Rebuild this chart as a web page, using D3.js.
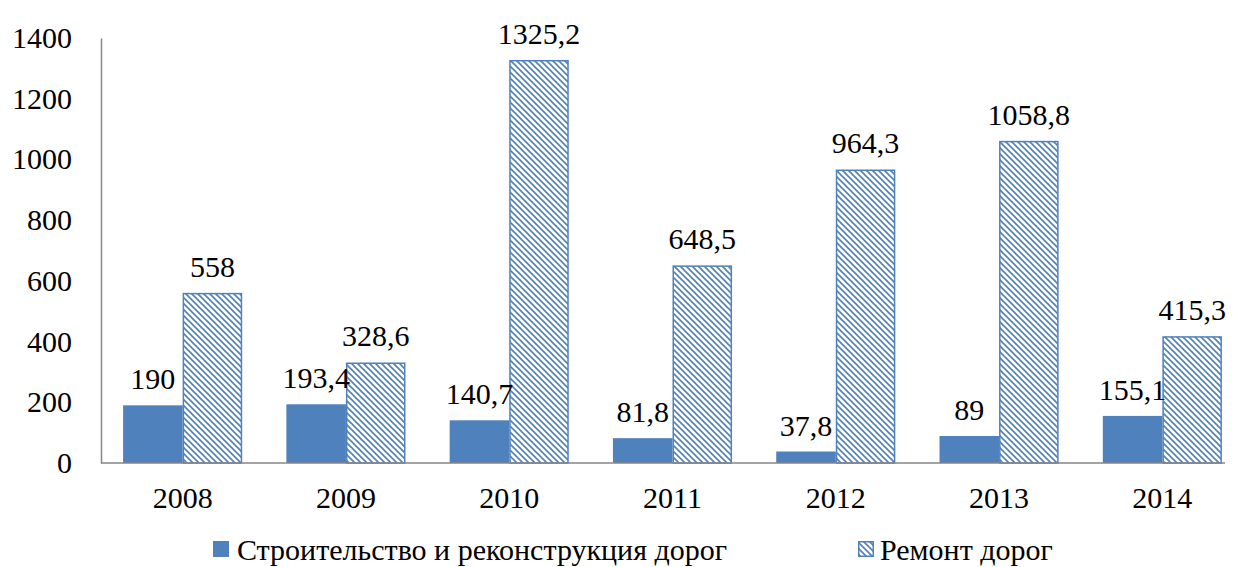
<!DOCTYPE html>
<html>
<head>
<meta charset="utf-8">
<script src="https://cdn.jsdelivr.net/npm/d3@7"></script>
</head>
<body style="margin:0">
<svg id="chart" width="1233" height="567" style="display:block;font-family:'Liberation Serif'"></svg>
<script>
// Road spending by year
const years = ["2008", "2009", "2010", "2011", "2012", "2013", "2014"];
const construction = [190, 193.4, 140.7, 81.8, 37.8, 89, 155.1];
const repair = [558, 328.6, 1325.2, 648.5, 964.3, 1058.8, 415.3];
const seriesNames = ["Строительство и реконструкция дорог", "Ремонт дорог"];
const yTicks = [0, 200, 400, 600, 800, 1000, 1200, 1400];

const plotLeft = 101, plotRight = 1244, axisEnd = 1225;
const plotTop = 38, plotBottom = 463;
const blue = "#4f81bd";
const axisGray = "#868686";
const fontSize = 30;
const serif = '"Liberation Serif"';

const svg = d3.select("#chart");

// Every label: serif face, same size, black
function addText(parent, x, y, str, anchor) {
  return parent.append("text")
    .style("font-family", serif)
    .attr("font-size", fontSize)
    .attr("x", x).attr("y", y)
    .attr("text-anchor", anchor || "start")
    .attr("fill", "#000")
    .text(str);
}

// Diagonal hatch for the repair series
const defs = svg.append("defs");
const pat = defs.append("pattern")
  .attr("id", "hatch")
  .attr("patternUnits", "userSpaceOnUse")
  .attr("width", 6).attr("height", 6);
pat.append("rect").attr("width", 6).attr("height", 6).attr("fill", "#fff");
pat.append("path")
  .attr("d", "M0,0L6,6M-1,5L1,7M5,-1L7,1")
  .attr("stroke", blue).attr("stroke-width", 1.6).attr("fill", "none");

const x0 = d3.scaleBand()
  .domain(years)
  .range([plotLeft, plotRight])
  .paddingInner(0).paddingOuter(0);

const x1 = d3.scaleBand()
  .domain(["c", "r"])
  .range([0, x0.bandwidth()])
  .paddingInner(0).paddingOuter(0.371);

const y = d3.scaleLinear()
  .domain([0, 1400])
  .range([plotBottom, plotTop]);

const fmt = v => String(v).replace(".", ",");

// Y axis line from the axis generator; labels drawn as plain text at the tick positions
const gy = svg.append("g").attr("transform", `translate(${plotLeft},0)`)
  .call(d3.axisLeft(y).tickValues(yTicks).tickSize(0).tickFormat(""));
gy.select(".domain").attr("stroke", axisGray).attr("stroke-width", 1.5);
gy.selectAll(".tick").remove();
const yLabels = svg.append("g");
yTicks.forEach(t => addText(yLabels, plotLeft - 29, y(t) + 10, String(t), "end"));

// Bars
const data = years.map((yr, i) => ({ yr, c: construction[i], r: repair[i] }));
const bars = svg.append("g");
data.forEach(d => {
  const gx = x0(d.yr);
  bars.append("rect")
    .attr("x", gx + x1("c"))
    .attr("width", x1.bandwidth())
    .attr("y", y(d.c))
    .attr("height", y(0) - y(d.c))
    .attr("fill", blue);
  bars.append("rect")
    .attr("x", gx + x1("r") + 0.75)
    .attr("width", x1.bandwidth() - 1.5)
    .attr("y", y(d.r))
    .attr("height", y(0) - y(d.r))
    .attr("fill", "url(#hatch)")
    .attr("stroke", blue)
    .attr("stroke-width", 1.5);
  // value labels above each bar
  addText(bars, gx + x1("c") + x1.bandwidth() / 2, y(d.c) - 16, fmt(d.c), "middle");
  addText(bars, gx + x1("r") + x1.bandwidth() / 2, y(d.r) - 17, fmt(d.r), "middle");
});

// X axis baseline and year labels
svg.append("line")
  .attr("x1", plotLeft).attr("x2", axisEnd)
  .attr("y1", y(0)).attr("y2", y(0))
  .attr("stroke", axisGray).attr("stroke-width", 1.5);
const xLabels = svg.append("g");
years.forEach(yr => addText(xLabels, x0(yr) + x0.bandwidth() / 2, y(0) + 45, yr, "middle"));

// Legend
const legend = svg.append("g").attr("transform", "translate(0,560)");
legend.append("rect").attr("x", 213).attr("y", -19).attr("width", 16).attr("height", 16).attr("fill", blue);
addText(legend, 237, 0, seriesNames[0]);
legend.append("rect").attr("x", 858.75).attr("y", -18.25).attr("width", 14.5).attr("height", 14.5)
  .attr("fill", "url(#hatch)").attr("stroke", blue).attr("stroke-width", 1.5);
addText(legend, 880, 0, seriesNames[1]);
</script>
</body>
</html>
